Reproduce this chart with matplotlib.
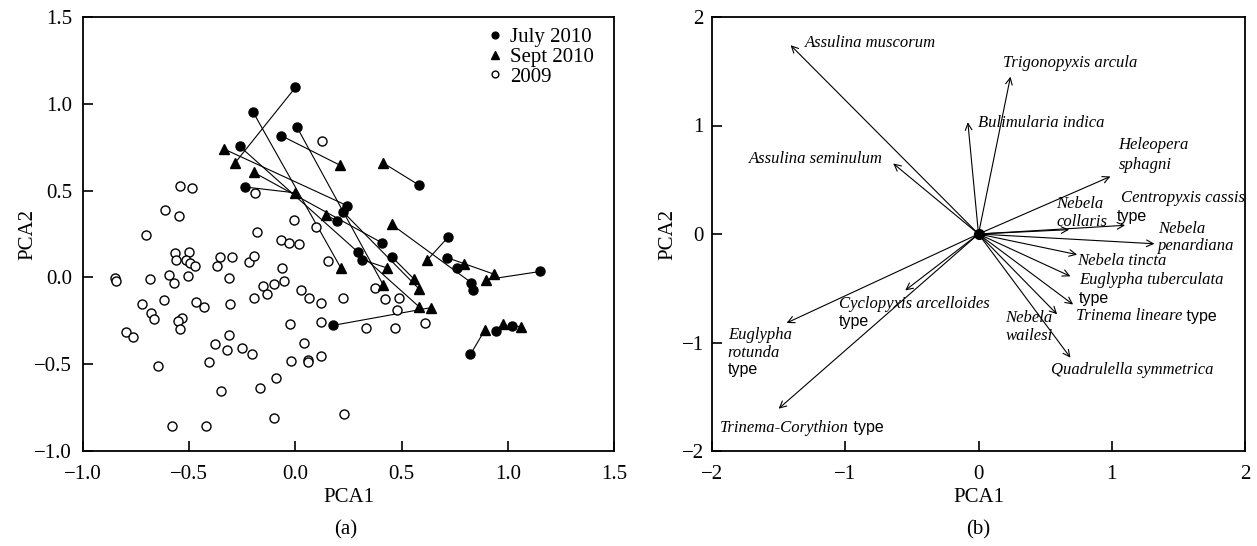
import matplotlib
matplotlib.use('Agg')
import matplotlib.pyplot as plt

plt.rcParams['font.family'] = 'serif'
plt.rcParams['font.serif'] = ['Liberation Serif', 'DejaVu Serif']

# ---- panel (a): site scores ----
july_x = [0.000, -0.199, 0.008, -0.066, -0.262, -0.239, 0.242, 0.223, 0.194, 0.584,
          0.408, 0.297, 0.314, 0.457, 0.719, 0.716, 0.763, 0.829, 0.835, 1.152,
          0.179, 0.824, 0.946, 1.018]
july_y = [1.094, 0.952, 0.864, 0.816, 0.755, 0.521, 0.414, 0.379, 0.326, 0.530,
          0.199, 0.148, 0.102, 0.115, 0.232, 0.113, 0.054, -0.031, -0.071, 0.034,
          -0.276, -0.444, -0.307, -0.280]
sept_x = [-0.337, -0.284, -0.196, 0.000, 0.144, 0.212, 0.411, 0.453, 0.215, 0.621,
          0.793, 0.430, 0.557, 0.413, 0.581, 0.934, 0.899, 0.584, 0.639, 0.891,
          0.979, 1.061]
sept_y = [0.740, 0.660, 0.605, 0.487, 0.360, 0.645, 0.661, 0.305, 0.052, 0.100,
          0.079, 0.055, -0.008, -0.042, -0.065, 0.019, -0.013, -0.171, -0.174, -0.305,
          -0.266, -0.283]
# (july index, sept index) of the same site
pairs = [(0, 1), (1, 8), (3, 5), (5, 3), (9, 6), (14, 9), (15, 15), (19, 16),
         (21, 19), (22, 20), (23, 21), (20, 18), (17, 7), (13, 12), (6, 0),
         (10, 2), (4, 17), (2, 13), (7, 14), (12, 11), (16, 10), (8, 4)]

y2009_x = [0.126, -0.543, -0.487, -0.615, -0.549, -0.188, -0.008, -0.705, -0.180, 0.097,
           -0.069, -0.028, 0.016, 0.154, -0.565, -0.563, -0.499, -0.513, -0.496, -0.471,
           -0.356, -0.367, -0.298, -0.218, -0.194, -0.064, -0.052, -0.851, -0.844, -0.683,
           -0.595, -0.573, -0.504, -0.311, -0.154, -0.132, -0.099, -0.194, 0.027, 0.063,
           0.121, 0.226, -0.720, -0.679, -0.667, -0.618, -0.468, -0.430, -0.309, -0.535,
           -0.552, -0.545, -0.797, -0.763, -0.025, 0.122, -0.314, -0.378, -0.320, -0.250,
           -0.204, 0.042, 0.058, 0.060, 0.122, -0.022, -0.645, -0.408, -0.091, -0.169,
           -0.352, -0.102, 0.231, -0.581, -0.419, 0.377, 0.422, 0.490, 0.477, 0.333,
           0.471, 0.610]
y2009_y = [0.787, 0.529, 0.513, 0.387, 0.352, 0.487, 0.333, 0.247, 0.259, 0.291,
           0.215, 0.197, 0.190, 0.094, 0.138, 0.100, 0.146, 0.103, 0.084, 0.063,
           0.117, 0.067, 0.117, 0.090, 0.123, 0.052, -0.021, -0.006, -0.023, -0.011,
           0.013, -0.033, 0.008, -0.002, -0.052, -0.098, -0.040, -0.117, -0.075, -0.121,
           -0.146, -0.119, -0.155, -0.203, -0.241, -0.128, -0.144, -0.171, -0.155, -0.234,
           -0.251, -0.297, -0.314, -0.343, -0.270, -0.257, -0.331, -0.381, -0.416, -0.408,
           -0.444, -0.377, -0.473, -0.489, -0.454, -0.483, -0.510, -0.490, -0.577, -0.638,
           -0.657, -0.810, -0.789, -0.854, -0.854, -0.059, -0.126, -0.119, -0.188, -0.289,
           -0.289, -0.264]

# ---- panel (b): species loadings ----
species = ['Assulina muscorum', 'Assulina seminulum', 'Bulimularia indica',
           'Trigonopyxis arcula', 'Heleopera sphagni', 'Centropyxis cassis type',
           'Nebela collaris', 'Nebela penardiana', 'Nebela tincta',
           'Euglypha tuberculata type', 'Trinema lineare type', 'Nebela wailesi',
           'Quadrulella symmetrica', 'Euglypha rotunda type',
           'Cyclopyxis arcelloides type', 'Trinema-Corythion type']
load_x = [-1.41, -0.64, -0.08, 0.24, 0.99, 1.10, 0.68, 1.32, 0.74, 0.69, 0.71, 0.59,
          0.69, -1.44, -0.55, -1.50]
load_y = [1.74, 0.65, 1.03, 1.45, 0.53, 0.08, 0.04, -0.09, -0.19, -0.39, -0.65, -0.74,
          -1.14, -0.82, -0.52, -1.61]

W, H = 1257, 546
fig = plt.figure(figsize=(W / 100, H / 100), dpi=100)
ax1 = fig.add_axes([83 / W, 1 - 451 / H, 531 / W, 434 / H])
ax2 = fig.add_axes([712 / W, 1 - 451 / H, 533 / W, 434 / H])

for ax in (ax1, ax2):
    for s in ax.spines.values():
        s.set_linewidth(1.3)
    ax.tick_params(direction='in', length=7, width=1.2, labelsize=15,
                   top=False, right=False)
    ax.tick_params(axis='x', pad=10)

# panel a
for j, s in pairs:
    ax1.plot([july_x[j], sept_x[s]], [july_y[j], sept_y[s]], color='black', lw=0.8, zorder=1)
ax1.plot(y2009_x, y2009_y, 'o', mfc='white', mec='black', mew=1.0, ms=6.5, ls='none',
         label='2009', zorder=2)
ax1.plot(july_x, july_y, 'o', color='black', ms=6.5, ls='none', label='July 2010', zorder=3)
ax1.plot(sept_x, sept_y, '^', color='black', ms=7, ls='none', label='Sept 2010', zorder=3)

h, l = ax1.get_legend_handles_labels()
leg = ax1.legend([h[1], h[2], h[0]], [l[1], l[2], l[0]], loc='upper left',
                 bbox_to_anchor=(0.765, 0.975), frameon=False, fontsize=15,
                 markerscale=0.75, handlelength=0.6, handletextpad=0.4,
                 labelspacing=0.0, borderpad=0, borderaxespad=0)

ax1.set_xlim(-1.0, 1.5)
ax1.set_ylim(-1.0, 1.5)
ax1.set_xticks([-1.0, -0.5, 0.0, 0.5, 1.0, 1.5])
ax1.set_yticks([-1.0, -0.5, 0.0, 0.5, 1.0, 1.5])
ax1.set_xticklabels(['\u22121.0', '\u22120.5', '0.0', '0.5', '1.0', '1.5'])
ax1.set_yticklabels(['\u22121.0', '\u22120.5', '0.0', '0.5', '1.0', '1.5'])
ax1.tick_params(axis='y', pad=8)
ax1.set_xlabel('PCA1', fontsize=15, va='center')
ax1.xaxis.set_label_coords(0.5, -(497 - 451) / 434)
ax1.set_ylabel('PCA2', fontsize=15, va='center')
ax1.yaxis.set_label_coords(-(83 - 28) / 531, 0.5)
fig.text(346 / W, 1 - 530 / H, '(a)', ha='center', va='center', fontsize=15)

# panel b
for x, y in zip(load_x, load_y):
    ax2.annotate('', xy=(x, y), xytext=(0, 0),
                 arrowprops=dict(arrowstyle='->', lw=0.8, color='black',
                                 shrinkA=0, shrinkB=0, mutation_scale=12))
ax2.plot(0, 0, 'o', color='black', ms=7, zorder=5)

it = dict(fontsize=12, style='italic', va='center', ha='left')
sans = dict(fontsize=11.5, family='Liberation Sans', va='center', ha='left')

ax2.text(-1.30, 1.76, 'Assulina muscorum', **it)
ax2.text(-0.72, 0.69, 'Assulina seminulum', **{**it, 'ha': 'right'})
ax2.text(0.0, 1.02, 'Bulimularia indica', **it)
ax2.text(0.185, 1.573, 'Trigonopyxis arcula', **it)
ax2.text(1.05, 0.82, 'Heleopera', **it)
ax2.text(1.05, 0.636, 'sphagni', **it)
ax2.text(1.066, 0.329, 'Centropyxis cassis', **it)
ax2.text(1.041, 0.157, 'type', **sans)
ax2.text(0.586, 0.276, 'Nebela', **it)
ax2.text(0.586, 0.113, 'collaris', **it)
ax2.text(1.35, 0.05, 'Nebela', **it)
ax2.text(1.35, -0.11, 'penardiana', **it)
ax2.text(0.741, -0.246, 'Nebela tincta', **it)
ax2.text(0.753, -0.424, 'Euglypha tuberculata', **it)
ax2.text(0.753, -0.593, 'type', **sans)
t1 = ax2.text(0.728, -0.756, 'Trinema lineare', **it)
ax2.annotate(' type', xy=(1, 0.5), xycoords=t1, **sans)
ax2.text(0.203, -0.774, 'Nebela', **it)
ax2.text(0.203, -0.943, 'wailesi', **it)
ax2.text(0.541, -1.253, 'Quadrulella symmetrica', **it)
ax2.text(-1.882, -0.93, 'Euglypha', **it)
ax2.text(-1.882, -1.094, 'rotunda', **it)
ax2.text(-1.882, -1.253, 'type', **sans)
ax2.text(-1.049, -0.645, 'Cyclopyxis arcelloides', **it)
ax2.text(-1.049, -0.808, 'type', **sans)
t2 = ax2.text(-1.937, -1.785, 'Trinema-Corythion', **it)
ax2.annotate(' type', xy=(1, 0.5), xycoords=t2, **sans)

ax2.set_xlim(-2, 2)
ax2.set_ylim(-2, 2)
ax2.set_xticks([-2, -1, 0, 1, 2])
ax2.set_yticks([-2, -1, 0, 1, 2])
ax2.set_xticklabels(['\u22122', '\u22121', '0', '1', '2'])
ax2.set_yticklabels(['\u22122', '\u22121', '0', '1', '2'])
ax2.tick_params(axis='y', pad=6)
ax2.set_xlabel('PCA1', fontsize=15, va='center')
ax2.xaxis.set_label_coords(0.5, -(497 - 451) / 434)
ax2.set_ylabel('PCA2', fontsize=15, va='center')
ax2.yaxis.set_label_coords(-(712 - 668) / 533, 0.5)
fig.text(978 / W, 1 - 530 / H, '(b)', ha='center', va='center', fontsize=15)

fig.savefig('out.png', dpi=100)
